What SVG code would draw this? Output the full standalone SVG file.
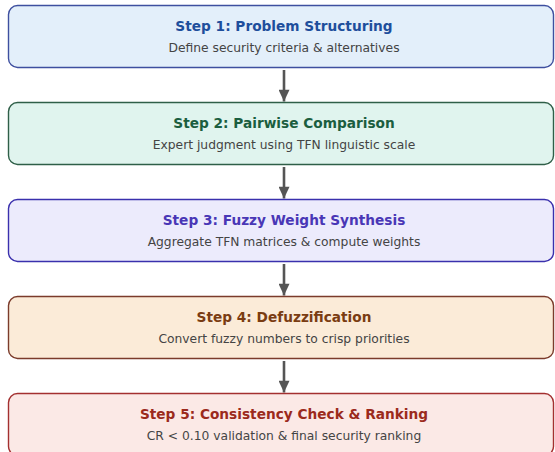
<svg xmlns="http://www.w3.org/2000/svg" width="555" height="452" viewBox="0 0 555 452">
<defs>
<style>
.box{stroke-width:1.4}
.t{font-family:"DejaVu Sans",sans-serif;font-weight:bold;font-size:13.7px;text-anchor:middle}
.s{font-family:"DejaVu Sans",sans-serif;font-size:12.3px;text-anchor:middle;fill:#444}
.c{stroke:#555;stroke-width:2.6;fill:none}
</style>
<marker id="ah" markerUnits="userSpaceOnUse" markerWidth="14" markerHeight="11" refX="14" refY="6.5" orient="auto" viewBox="0 0 14 13">
<path d="M0,0 L14,6.5 L0,13 Z" fill="#555"/>
</marker>
</defs>
<rect width="555" height="452" fill="#ffffff"/>
<g id="connectors">
<line class="c" x1="284" y1="70" x2="284" y2="101.5" marker-end="url(#ah)"/>
<line class="c" x1="284" y1="167" x2="284" y2="198.5" marker-end="url(#ah)"/>
<line class="c" x1="284" y1="264" x2="284" y2="295.5" marker-end="url(#ah)"/>
<line class="c" x1="284" y1="361" x2="284" y2="392.5" marker-end="url(#ah)"/>
</g>
<g id="step1">
<rect class="box" x="8.5" y="5.5" width="545" height="62" rx="9" fill="#e3effa" stroke="#3e4f9f"/>
<text class="t" x="284" y="31" fill="#1e4e9c">Step 1: Problem Structuring</text>
<text class="s" x="284" y="52">Define security criteria &amp; alternatives</text>
</g>
<g id="step2">
<rect class="box" x="8.5" y="102.5" width="545" height="62" rx="9" fill="#e0f4ee" stroke="#2f5f48"/>
<text class="t" x="284" y="128" fill="#1b5e3f">Step 2: Pairwise Comparison</text>
<text class="s" x="284" y="149">Expert judgment using TFN linguistic scale</text>
</g>
<g id="step3">
<rect class="box" x="8.5" y="199.5" width="545" height="62" rx="9" fill="#ecebfc" stroke="#3a30ad"/>
<text class="t" x="284" y="225" fill="#4937b6">Step 3: Fuzzy Weight Synthesis</text>
<text class="s" x="284" y="246">Aggregate TFN matrices &amp; compute weights</text>
</g>
<g id="step4">
<rect class="box" x="8.5" y="296.5" width="545" height="62" rx="9" fill="#fbebd8" stroke="#7b3b2b"/>
<text class="t" x="284" y="322" fill="#7a3c12">Step 4: Defuzzification</text>
<text class="s" x="284" y="343">Convert fuzzy numbers to crisp priorities</text>
</g>
<g id="step5">
<rect class="box" x="8.5" y="393.5" width="545" height="62" rx="9" fill="#fbe9e6" stroke="#a33030"/>
<text class="t" x="284" y="419" fill="#9b2a1c">Step 5: Consistency Check &amp; Ranking</text>
<text class="s" x="284" y="440">CR &lt; 0.10 validation &amp; final security ranking</text>
</g>
</svg>
